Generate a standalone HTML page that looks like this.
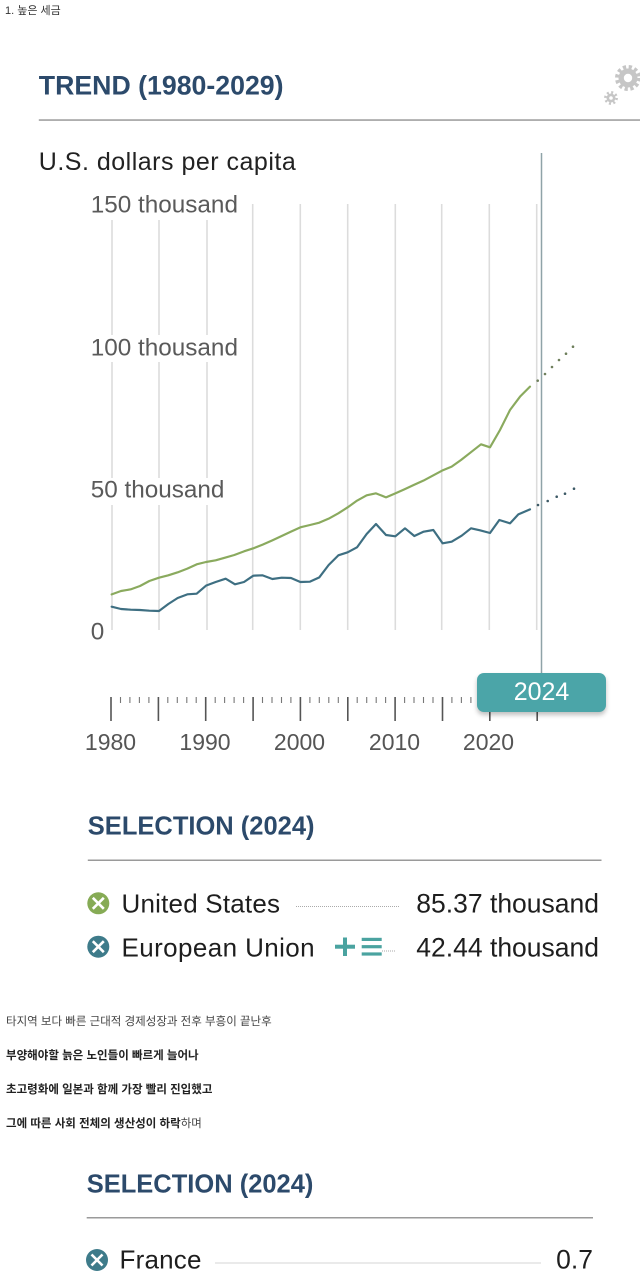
<!DOCTYPE html>
<html><head><meta charset="utf-8"><style>
html,body{margin:0;padding:0;background:#fff;}
body{width:640px;height:1280px;position:relative;overflow:hidden;}
.ko{position:absolute;left:6px;font-family:"Liberation Sans","Noto Sans CJK KR",sans-serif;font-size:11.5px;color:#444;line-height:14px;white-space:nowrap;}
.b{font-weight:bold;color:#222;}
.bubble{position:absolute;left:477px;top:673px;width:129px;height:39px;border-radius:7px;background:#4ba5a8;box-shadow:0 3px 5px rgba(0,0,0,0.25);color:#fff;font-family:"Liberation Sans",sans-serif;font-size:25px;line-height:39px;text-align:center;}
</style></head><body>
<svg width="640" height="1280" viewBox="0 0 640 1280" style="position:absolute;left:0;top:0" font-family="Liberation Sans, sans-serif">
<!-- gears -->
<g fill="#c6c6c6">
<circle cx="628" cy="78" r="9.5"/>
<circle cx="628" cy="78" r="11" fill="none" stroke="#c6c6c6" stroke-width="4" stroke-dasharray="3.2 2.6"/>
<circle cx="628" cy="78" r="4.2" fill="#fff"/>
<circle cx="611" cy="98" r="4.5"/>
<circle cx="611" cy="98" r="5.6" fill="none" stroke="#c6c6c6" stroke-width="2.6" stroke-dasharray="2 2.4"/>
<circle cx="611" cy="98" r="1.8" fill="#fff"/>
</g>
<!-- title -->
<text x="38.8" y="94.3" font-size="26.7" font-weight="bold" fill="#2c4a6b">TREND (1980-2029)</text>
<rect x="38.8" y="119.3" width="602" height="1.5" fill="#9a9a9a"/>
<text x="38.8" y="170" font-size="25" letter-spacing="0.5" fill="#222">U.S. dollars per capita</text>

<!-- gridlines -->
<g stroke="#dcdcdc" stroke-width="1.6">
<line x1="112" y1="204" x2="112" y2="630"/>
<line x1="159" y1="204" x2="159" y2="630"/>
<line x1="207" y1="204" x2="207" y2="630"/>
<line x1="252.7" y1="204" x2="252.7" y2="630"/>
<line x1="300.3" y1="204" x2="300.3" y2="630"/>
<line x1="347.7" y1="204" x2="347.7" y2="630"/>
<line x1="395.3" y1="204" x2="395.3" y2="630"/>
<line x1="441.7" y1="204" x2="441.7" y2="630"/>
<line x1="489.3" y1="204" x2="489.3" y2="630"/>
<line x1="536.7" y1="204" x2="536.7" y2="630"/>
</g>
<!-- label background boxes -->
<g fill="#fff">
<rect x="88" y="186" width="156" height="34"/>
<rect x="88" y="335" width="156" height="27"/>
<rect x="88" y="478" width="145" height="27"/>
</g>
<g font-size="24.3" fill="#5a5a5a">
<text x="90.7" y="212.5">150 thousand</text>
<text x="90.7" y="355.7">100 thousand</text>
<text x="90.7" y="497.3">50 thousand</text>
<text x="90.7" y="639.3">0</text>
</g>

<!-- marker line -->
<line x1="541.5" y1="153" x2="541.5" y2="676" stroke="#8fa3a8" stroke-width="1.5"/>

<!-- series -->
<g transform="translate(80,180) scale(0.333333)" fill="none" stroke-linejoin="round" stroke-linecap="round" stroke-width="6.5">
<polyline stroke="#8aaa5e" points="95,1243 123,1233 152,1228 180,1218 208,1203 237,1193 265,1186 293,1177 322,1166 350,1153 378,1146 407,1141 435,1133 463,1125 492,1114 520,1105 548,1094 577,1081 605,1068 633,1055 661,1042 690,1035 718,1028 746,1016 775,1000 803,982 831,962 860,946 888,940 918,952 946,940 973,928 1001,915 1030,902 1058,887 1086,872 1115,860 1143,840 1171,818 1203,793 1230,802 1260,750 1290,690 1320,650 1350,620"/>
<polyline stroke="#3e6f82" points="95,1280 123,1287 152,1289 180,1290 208,1292 237,1293 265,1272 293,1254 322,1243 350,1241 378,1217 407,1206 437,1196 465,1213 492,1206 520,1187 548,1186 577,1197 605,1193 633,1194 661,1206 690,1205 718,1192 746,1155 775,1126 803,1117 831,1102 860,1062 888,1032 918,1065 946,1069 975,1045 1003,1068 1031,1055 1060,1050 1088,1090 1115,1085 1145,1067 1173,1045 1200,1051 1230,1059 1258,1020 1290,1030 1315,1003 1350,988"/>
</g>
<!-- projections dots -->
<g fill="#6e7f5c">
<circle cx="537.7" cy="380.7" r="1.3"/><circle cx="545" cy="374" r="1.3"/><circle cx="552" cy="367" r="1.3"/><circle cx="559" cy="360" r="1.3"/><circle cx="566" cy="353.7" r="1.3"/><circle cx="573" cy="346.7" r="1.3"/>
</g>
<g fill="#3d5a66">
<circle cx="538" cy="505" r="1.3"/><circle cx="547.7" cy="501" r="1.3"/><circle cx="556.7" cy="496.7" r="1.3"/><circle cx="565" cy="493.7" r="1.3"/><circle cx="574" cy="488.7" r="1.3"/>
</g>

<!-- timeline ticks -->
<g stroke="#555" stroke-width="1.6">
<line x1="111" y1="697" x2="111" y2="721"/>
<line x1="158.4" y1="697" x2="158.4" y2="721"/>
<line x1="205.7" y1="697" x2="205.7" y2="721"/>
<line x1="253.1" y1="697" x2="253.1" y2="721"/>
<line x1="300.4" y1="697" x2="300.4" y2="721"/>
<line x1="347.8" y1="697" x2="347.8" y2="721"/>
<line x1="395.1" y1="697" x2="395.1" y2="721"/>
<line x1="442.5" y1="697" x2="442.5" y2="721"/>
<line x1="489.8" y1="697" x2="489.8" y2="721"/>
<line x1="537.2" y1="697" x2="537.2" y2="721"/>
</g>
<g stroke="#777" stroke-width="1.1">
<line x1="120.5" y1="697" x2="120.5" y2="703"/><line x1="129.9" y1="697" x2="129.9" y2="703"/><line x1="139.4" y1="697" x2="139.4" y2="703"/><line x1="148.9" y1="697" x2="148.9" y2="703"/>
<line x1="167.8" y1="697" x2="167.8" y2="703"/><line x1="177.3" y1="697" x2="177.3" y2="703"/><line x1="186.8" y1="697" x2="186.8" y2="703"/><line x1="196.2" y1="697" x2="196.2" y2="703"/>
<line x1="215.2" y1="697" x2="215.2" y2="703"/><line x1="224.6" y1="697" x2="224.6" y2="703"/><line x1="234.1" y1="697" x2="234.1" y2="703"/><line x1="243.6" y1="697" x2="243.6" y2="703"/>
<line x1="262.5" y1="697" x2="262.5" y2="703"/><line x1="272" y1="697" x2="272" y2="703"/><line x1="281.5" y1="697" x2="281.5" y2="703"/><line x1="290.9" y1="697" x2="290.9" y2="703"/>
<line x1="309.9" y1="697" x2="309.9" y2="703"/><line x1="319.3" y1="697" x2="319.3" y2="703"/><line x1="328.8" y1="697" x2="328.8" y2="703"/><line x1="338.3" y1="697" x2="338.3" y2="703"/>
<line x1="357.2" y1="697" x2="357.2" y2="703"/><line x1="366.7" y1="697" x2="366.7" y2="703"/><line x1="376.2" y1="697" x2="376.2" y2="703"/><line x1="385.6" y1="697" x2="385.6" y2="703"/>
<line x1="404.6" y1="697" x2="404.6" y2="703"/><line x1="414" y1="697" x2="414" y2="703"/><line x1="423.5" y1="697" x2="423.5" y2="703"/><line x1="433" y1="697" x2="433" y2="703"/>
<line x1="451.9" y1="697" x2="451.9" y2="703"/><line x1="461.4" y1="697" x2="461.4" y2="703"/><line x1="470.9" y1="697" x2="470.9" y2="703"/>
</g>
<g font-size="23" fill="#555" text-anchor="middle">
<text x="110.5" y="750">1980</text>
<text x="205" y="750">1990</text>
<text x="299.5" y="750">2000</text>
<text x="394.5" y="750">2010</text>
<text x="488.5" y="750">2020</text>
</g>

<!-- selection 1 -->
<text x="87.8" y="834.3" font-size="25.5" font-weight="bold" fill="#2c4a6b">SELECTION (2024)</text>
<rect x="87.8" y="859.5" width="513.7" height="1.5" fill="#9a9a9a"/>
<circle cx="98.3" cy="903.3" r="11" fill="#86ab55"/>
<g stroke="#fff" stroke-width="2.6"><line x1="92.8" y1="897.8" x2="103.8" y2="908.8"/><line x1="103.8" y1="897.8" x2="92.8" y2="908.8"/></g>
<text x="121.5" y="912.7" font-size="26" letter-spacing="0.2" fill="#1e1e1e">United States</text>
<line x1="296" y1="906.5" x2="399" y2="906.5" stroke="#aaa" stroke-width="1" stroke-dasharray="1 1"/>
<text x="599" y="912.7" font-size="26.5" fill="#1e1e1e" text-anchor="end">85.37 thousand</text>

<circle cx="98.3" cy="946.7" r="11" fill="#3e7b8a"/>
<g stroke="#fff" stroke-width="2.6"><line x1="92.8" y1="941.2" x2="103.8" y2="952.2"/><line x1="103.8" y1="941.2" x2="92.8" y2="952.2"/></g>
<text x="121.5" y="956.7" font-size="26" letter-spacing="0.4" fill="#1e1e1e">European Union</text>
<g fill="#4aa3a0">
<rect x="335" y="944.7" width="20" height="4"/>
<rect x="343" y="937.5" width="4" height="18.5"/>
<rect x="361.7" y="937.8" width="20" height="3.2"/>
<rect x="361.7" y="945.1" width="20" height="3.2"/>
<rect x="361.7" y="952.4" width="20" height="3.2"/>
</g>
<line x1="382" y1="951" x2="396" y2="951" stroke="#aaa" stroke-width="1" stroke-dasharray="1 1"/>
<text x="599" y="956.7" font-size="26.5" fill="#1e1e1e" text-anchor="end">42.44 thousand</text>

<!-- selection 2 -->
<text x="86.7" y="1192.7" font-size="25.5" font-weight="bold" fill="#2c4a6b">SELECTION (2024)</text>
<rect x="86.7" y="1217" width="506.3" height="1.5" fill="#9a9a9a"/>
<circle cx="97" cy="1260" r="11" fill="#3e7b8a"/>
<g stroke="#fff" stroke-width="2.6"><line x1="91.5" y1="1254.5" x2="102.5" y2="1265.5"/><line x1="102.5" y1="1254.5" x2="91.5" y2="1265.5"/></g>
<text x="119.5" y="1268.5" font-size="26" letter-spacing="0.2" fill="#1e1e1e">France</text>
<line x1="215.5" y1="1263" x2="541.5" y2="1263" stroke="#aaa" stroke-width="1" stroke-dasharray="1 1"/>
<text x="593" y="1268.5" font-size="26.5" fill="#1e1e1e" text-anchor="end">0.7</text>
</svg>

<div class="bubble">2024</div>

<div class="ko" style="top:4px;left:5px;font-size:11px;color:#333;">1. 높은 세금</div>
<div class="ko" style="top:1014.7px;">타지역 보다 빠른 근대적 경제성장과 전후 부흥이 끝난후</div>
<div class="ko b" style="top:1049px;">부양해야할 늙은 노인들이 빠르게 늘어나</div>
<div class="ko b" style="top:1083px;">초고령화에 일본과 함께 가장 빨리 진입했고</div>
<div class="ko" style="top:1117px;"><span class="b">그에 따른 사회 전체의 생산성이 하락</span>하며</div>
</body></html>
